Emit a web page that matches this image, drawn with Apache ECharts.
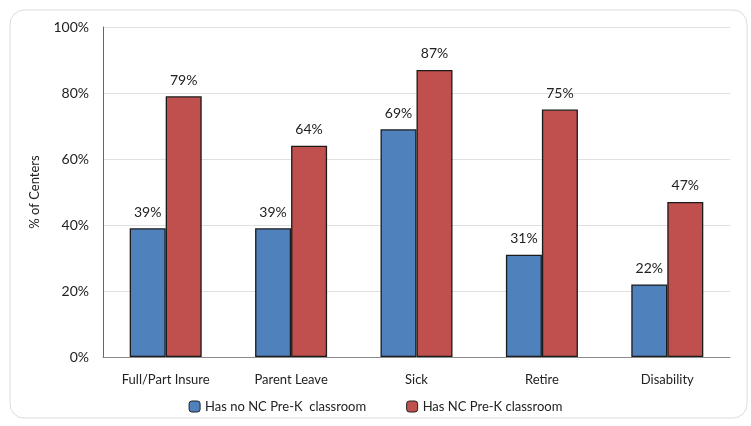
<!DOCTYPE html>
<html>
<head>
<meta charset="utf-8">
<script src="https://cdn.jsdelivr.net/npm/echarts@6/dist/echarts.min.js"></script>
<style>
  html, body { margin: 0; padding: 0; background: #fff; }
  #main { width: 751px; height: 426px; }
</style>
</head>
<body>
<div id="main"></div>
<script>
var categories = ['Full/Part Insure', 'Parent Leave', 'Sick', 'Retire', 'Disability'];
var noPreK = [39, 39, 69, 31, 22];
var hasPreK = [79, 64, 87, 75, 47];
var seriesNames = ['Has no NC Pre-K  classroom', 'Has NC Pre-K classroom'];

var myChart = echarts.init(document.getElementById('main'));
var font = 'Lato, "Open Sans", sans-serif';

var labelStyle = {
  show: true,
  position: 'top',
  distance: 9,
  formatter: '{c}%',
  color: '#222',
  fontSize: 14,
  fontFamily: font
};

var option = {
  animation: false,
  backgroundColor: '#fff',
  graphic: [{
    type: 'rect',
    shape: { x: 10, y: 10, width: 737, height: 408, r: 14 },
    style: { fill: 'none', stroke: '#dcdcdc', lineWidth: 1 },
    silent: true
  }],
  grid: { left: 103, right: 21, top: 27, bottom: 69 },
  legend: {
    bottom: 8,
    left: 'center',
    itemWidth: 11,
    itemHeight: 11,
    itemGap: 40,
    textStyle: { fontSize: 13, color: '#222', fontFamily: font },
    itemStyle: { borderColor: '#222', borderWidth: 1 },
    data: seriesNames
  },
  xAxis: {
    type: 'category',
    data: categories,
    axisLine: { lineStyle: { color: '#8c8c8c' } },
    axisTick: { show: false },
    axisLabel: { color: '#222', fontSize: 13, fontFamily: font, margin: 16 }
  },
  yAxis: {
    type: 'value',
    min: 0,
    max: 100,
    interval: 20,
    name: '% of Centers',
    nameLocation: 'middle',
    nameGap: 62,
    nameTextStyle: { color: '#222', fontSize: 13, fontFamily: font },
    axisLine: { show: true, lineStyle: { color: '#666' } },
    axisTick: { show: false },
    axisLabel: { formatter: '{value}%', color: '#222', fontSize: 14, fontFamily: font, margin: 14 },
    splitLine: { lineStyle: { color: '#e0e0e0' } }
  },
  series: [{
    name: seriesNames[0],
    type: 'bar',
    data: noPreK,
    barWidth: 36,
    barGap: '0%',
    itemStyle: { color: '#4f81bd', borderColor: '#1a1a1a', borderWidth: 1.3 },
    label: labelStyle
  }, {
    name: seriesNames[1],
    type: 'bar',
    data: hasPreK,
    barWidth: 36,
    itemStyle: { color: '#c0504d', borderColor: '#1a1a1a', borderWidth: 1.3 },
    label: labelStyle
  }]
};

myChart.setOption(option, true);
</script>
</body>
</html>
